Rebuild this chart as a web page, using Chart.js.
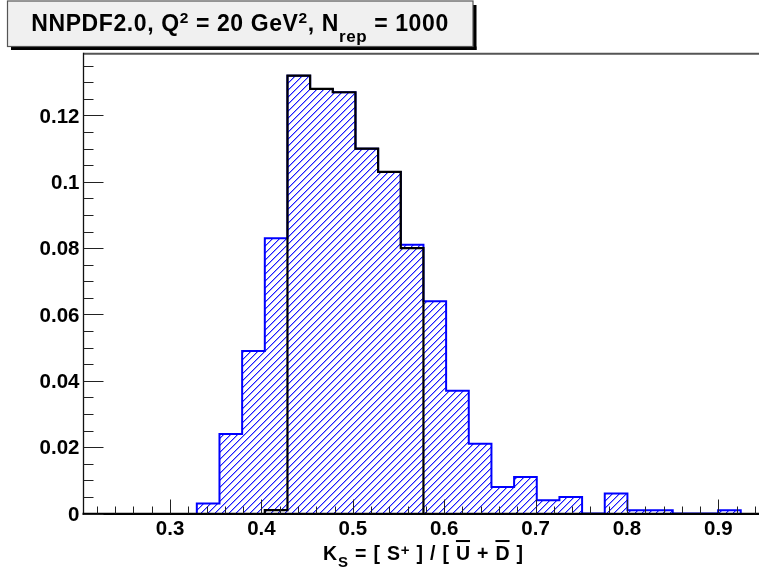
<!DOCTYPE html>
<html>
<head>
<meta charset="utf-8">
<script src="https://cdn.jsdelivr.net/npm/chart.js@4/dist/chart.umd.min.js"></script>
<style>
html,body{margin:0;padding:0;background:#fff;overflow:hidden;width:759px;height:571px}
#wrap{position:relative;width:780px;height:571px}
canvas{display:block}
</style>
</head>
<body>
<div id="wrap"><canvas id="c" width="780" height="571" style="width:780px;height:571px"></canvas></div>
<script>
// ---- DATA ----
// histogram bin edges in K_S (30 bins)
const binEdges = [0.2053,0.2301,0.2549,0.2797,0.3045,0.3293,0.3541,0.3789,0.4037,0.4285,
                  0.4533,0.4781,0.5029,0.5277,0.5525,0.5773,0.6021,0.6269,0.6517,0.6765,
                  0.7013,0.7261,0.7509,0.7757,0.8005,0.8253,0.8501,0.8749,0.8997,0.9245,0.9493];
// all replicas (blue, hatched)
const allReplicas = [0,0,0,0,0,0.003,0.024,0.049,0.083,0.132,
                     0.128,0.127,0.110,0.103,0.081,0.064,0.037,0.021,0.008,0.011,
                     0.004,0.005,0,0.006,0.001,0.001,0,0,0.001,0];
// central 68% subset (black outline)
const centralReplicas = [0,0,0,0,0,0,0,0,0.001,0.132,
                         0.128,0.127,0.110,0.103,0.080,0,0,0,0,0,
                         0,0,0,0,0,0,0,0,0,0];
const xTickValues = [0.3,0.4,0.5,0.6,0.7,0.8,0.9];
const xTickLabels = ['0.3','0.4','0.5','0.6','0.7','0.8','0.9'];
const yTickValues = [0,0.02,0.04,0.06,0.08,0.1,0.12];
const yTickLabels = ['0','0.02','0.04','0.06','0.08','0.1','0.12'];
const titleParts = [
  {t:'NNPDF2.0, Q'}, {t:'2', sup:true}, {t:' = 20 GeV'}, {t:'2', sup:true},
  {t:', N'}, {t:'rep', sub:true}, {t:' = 1000'}
];
const xTitleParts = [
  {t:'K'}, {t:'S', sub:true}, {t:' = [ S'}, {t:'+', sup:true}, {t:' ] / [ '},
  {t:'U', over:true}, {t:' + '}, {t:'D', over:true}, {t:' ]'}
];

// ---- helpers ----
function histPoints(values, edges){
  let first = values.findIndex(v => v > 0);
  let last = values.length - 1 - [...values].reverse().findIndex(v => v > 0);
  const pts = [{x: edges[first], y: 0}];
  for (let k = first; k <= last; k++) pts.push({x: edges[k], y: values[k]});
  pts.push({x: edges[last + 1], y: values[last]});
  pts.push({x: edges[last + 1], y: 0});
  return pts;
}
const FONT = '"Liberation Sans", Arial, Helvetica, sans-serif';

function makeHatch(ctx){
  const s = 7, c = document.createElement('canvas');
  c.width = s; c.height = s;
  const g = c.getContext('2d');
  for (let i = 0; i < s; i++){
    const y = s - 1 - i;
    g.fillStyle = '#1a1aff';
    g.fillRect(i, y, 1, 1);
    g.fillStyle = 'rgba(40,40,255,0.45)';
    g.fillRect((i + 1) % s, y, 1, 1);
  }
  return ctx.createPattern(c, 'repeat');
}

function richLayout(ctx, parts, cfg){
  let w = 0;
  const out = [];
  for (const p of parts){
    const size = p.sup ? cfg.sup : p.sub ? cfg.sub : cfg.main;
    ctx.font = 'bold ' + size + 'px ' + FONT;
    ctx.letterSpacing = (cfg.ls || 0) + 'px';
    const pw = ctx.measureText(p.t).width;
    out.push({p, size, x: w, w: pw});
    w += pw;
  }
  return {items: out, width: w};
}
function drawRich(ctx, parts, cfg, cx, baseline){
  const lay = richLayout(ctx, parts, cfg);
  const x0 = cx - lay.width / 2;
  ctx.fillStyle = '#000';
  ctx.textAlign = 'left';
  ctx.textBaseline = 'alphabetic';
  for (const it of lay.items){
    ctx.font = 'bold ' + it.size + 'px ' + FONT;
    ctx.letterSpacing = (cfg.ls || 0) + 'px';
    const dy = it.p.sup ? cfg.supDy : it.p.sub ? cfg.subDy : 0;
    ctx.fillText(it.p.t, x0 + it.x, baseline + dy);
    if (it.p.over){
      ctx.fillRect(x0 + it.x, baseline - it.size * 0.716 - 5.5, it.w - (cfg.ls||0), 2);
    }
  }
  ctx.letterSpacing = '0px';
}

const decor = {
  id: 'rootDecor',
  afterDraw(chart){
    const ctx = chart.ctx, xs = chart.scales.x, ys = chart.scales.y, a = chart.chartArea;
    ctx.save();
    // frame
    ctx.strokeStyle = '#555'; ctx.lineWidth = 2;
    ctx.beginPath(); ctx.moveTo(a.left, a.top); ctx.lineTo(a.right + 20, a.top); ctx.stroke();
    ctx.strokeStyle = '#111'; ctx.lineWidth = 1.3;
    ctx.beginPath(); ctx.moveTo(a.left, a.top - 1); ctx.lineTo(a.left, a.bottom); ctx.stroke();
    ctx.strokeStyle = '#000'; ctx.lineWidth = 2.2;
    ctx.beginPath(); ctx.moveTo(a.left - 1, a.bottom + 0.3); ctx.lineTo(a.right + 20, a.bottom + 0.3); ctx.stroke();
    // y ticks
    ctx.strokeStyle = '#222'; ctx.lineWidth = 1;
    ctx.beginPath();
    for (let i = 0; i <= 27; i++){
      const v = i * 0.005;
      if (v > ys.max) break;
      const py = Math.round(ys.getPixelForValue(v)) + 0.5;
      const len = (i % 4 === 0) ? 20 : 10;
      ctx.moveTo(a.left, py); ctx.lineTo(a.left + len, py);
    }
    // x ticks
    for (let i = 11; i <= 47; i++){
      const v = i * 0.02;
      if (v < xs.min || v > xs.max) continue;
      const px = Math.round(xs.getPixelForValue(v)) + 0.5;
      const len = (i % 5 === 0) ? 14 : 7;
      ctx.moveTo(px, a.bottom); ctx.lineTo(px, a.bottom - len);
    }
    ctx.stroke();
    // tick labels
    ctx.fillStyle = '#000';
    ctx.font = 'bold 20.5px ' + FONT;
    ctx.textAlign = 'right'; ctx.textBaseline = 'alphabetic';
    yTickValues.forEach((v, i) => {
      ctx.fillText(yTickLabels[i], a.left - 4, ys.getPixelForValue(v) + 7.3);
    });
    ctx.textAlign = 'center';
    xTickValues.forEach((v, i) => {
      ctx.fillText(xTickLabels[i], xs.getPixelForValue(v), a.bottom + 21);
    });
    // x axis title
    drawRich(ctx, xTitleParts, {main: 19.5, sub: 15, sup: 15, subDy: 7, supDy: -5, ls: 0.8},
             (a.left + a.right) / 2, a.bottom + 46);
    // title box with shadow
    ctx.fillStyle = '#000';
    ctx.fillRect(473, 5, 3.5, 45);
    ctx.fillRect(11, 46.5, 465.5, 3.5);
    ctx.fillStyle = '#f0f0f0';
    ctx.fillRect(7, 1, 466, 45.5);
    ctx.strokeStyle = '#555'; ctx.lineWidth = 1.2;
    ctx.strokeRect(7.5, 1, 465.5, 45.5);
    drawRich(ctx, titleParts, {main: 23, sub: 17, sup: 15.5, subDy: 11, supDy: -8, ls: 0.6}, 240, 31);
    ctx.restore();
  }
};

const ctx = document.getElementById('c').getContext('2d');
const hatch = makeHatch(ctx);
const yMax = 1.05 * Math.max(...allReplicas);

new Chart(ctx, {
  type: 'line',
  data: {
    datasets: [
      {
        label: 'all replicas',
        data: histPoints(allReplicas, binEdges),
        stepped: true,
        borderColor: '#0000ff',
        borderWidth: 2,
        backgroundColor: hatch,
        fill: 'origin',
        pointRadius: 0,
        order: 2
      },
      {
        label: '68% CL',
        data: histPoints(centralReplicas, binEdges),
        stepped: true,
        borderColor: '#000000',
        borderWidth: 2.2,
        fill: false,
        pointRadius: 0,
        order: 1
      }
    ]
  },
  options: {
    responsive: false,
    animation: false,
    devicePixelRatio: 1,
    layout: {padding: {left: 83.5, right: 780 - 763.4, top: 53.8, bottom: 571 - 513.5}},
    scales: {
      x: {type: 'linear', min: binEdges[0], max: binEdges[binEdges.length - 1], display: false},
      y: {type: 'linear', min: 0, max: yMax, display: false}
    },
    plugins: {legend: {display: false}, tooltip: {enabled: false}}
  },
  plugins: [decor]
});
</script>
</body>
</html>
